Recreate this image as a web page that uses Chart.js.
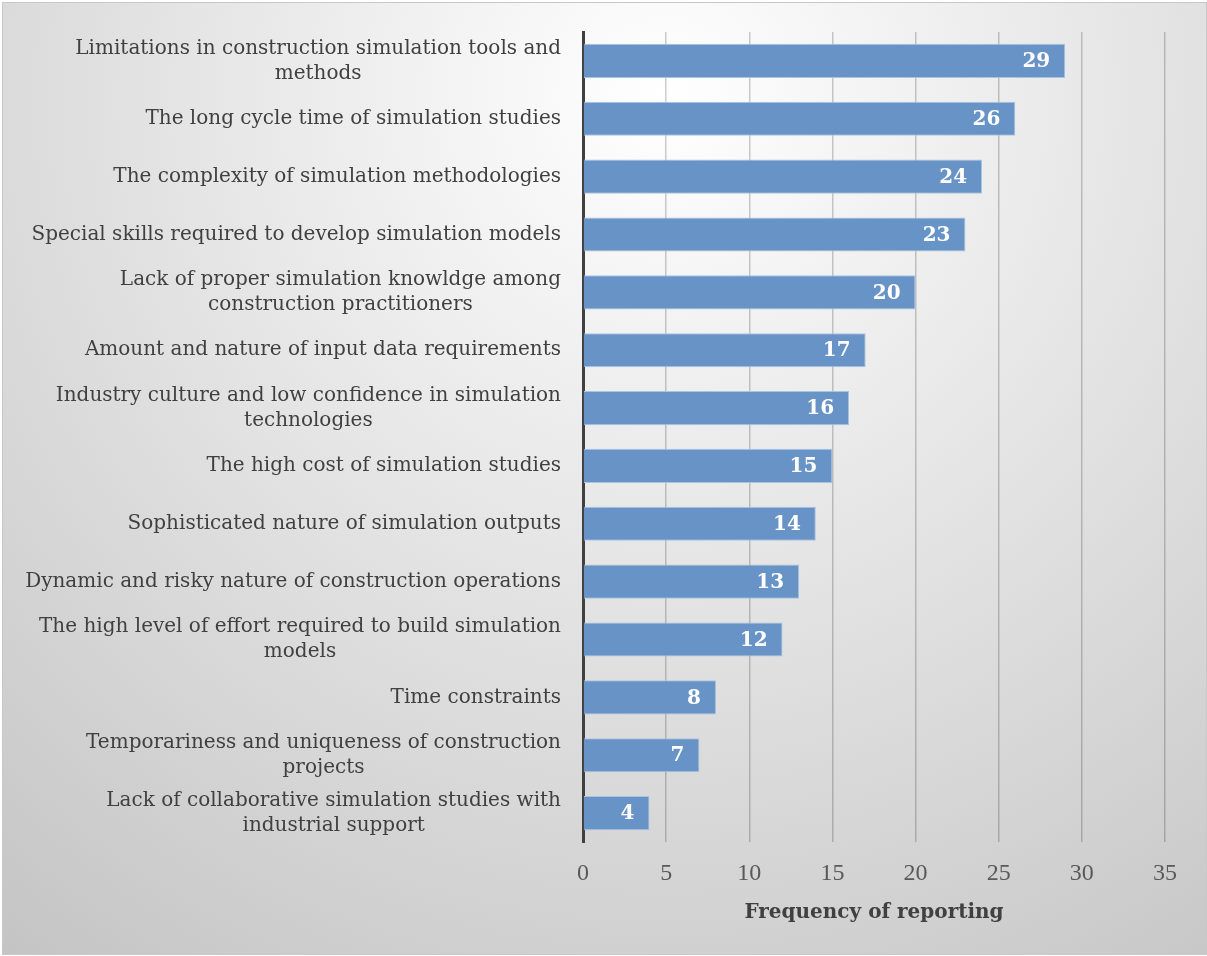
<!DOCTYPE html>
<html>
<head>
<meta charset="utf-8">
<script src="https://cdn.jsdelivr.net/npm/chart.js@4/dist/chart.umd.min.js"></script>
<style>
  html, body { margin: 0; padding: 0; background: #fff; }
  #wrap {
    position: absolute; left: 2px; top: 2px; width: 1203px; height: 951px;
    border: 1px solid #c8c8c8;
    background: radial-gradient(circle farthest-corner at 55% 10%, #ffffff 0%, #c4c4c4 100%);
  }
  #chart { position: absolute; left: -3px; top: -3px; }
</style>
</head>
<body>
<div id="wrap"><canvas id="chart" width="1207" height="956"></canvas></div>
<script>
// Barrier labels (already split into lines the way the figure wraps them)
const barrierLabels = [
  ['Limitations in construction simulation tools and', 'methods'],
  ['The long cycle time of simulation studies'],
  ['The complexity of simulation methodologies'],
  ['Special skills required to develop simulation models'],
  ['Lack of proper simulation knowldge among ', 'construction practitioners'],
  ['Amount and nature of input data requirements'],
  ['Industry culture and low confidence in simulation', 'technologies'],
  ['The high cost of simulation studies'],
  ['Sophisticated nature of simulation outputs'],
  ['Dynamic and risky nature of construction operations'],
  ['The high level of effort required to build simulation', 'models'],
  ['Time constraints'],
  ['Temporariness and uniqueness of construction', 'projects'],
  ['Lack of collaborative simulation studies with', 'industrial support']
];
const frequencies = [29, 26, 24, 23, 20, 17, 16, 15, 14, 13, 12, 8, 7, 4];
const axisTicks = [0, 5, 10, 15, 20, 25, 30, 35];
const axisTitle = 'Frequency of reporting';

const SERIF = '"DejaVu Serif", "Liberation Serif", serif';
const SERIF_NARROW = '"Liberation Serif", "DejaVu Serif", serif';
const TEXT_DARK = '#404040';

// category labels: right-aligned block, lines centred inside it
const categoryLabels = {
  id: 'categoryLabels',
  afterDraw(chart) {
    const { ctx, scales: { y } } = chart;
    const rightEdge = 561, lineH = 25;
    ctx.save();
    ctx.font = '20px ' + SERIF;
    ctx.fillStyle = TEXT_DARK;
    ctx.textAlign = 'center';
    ctx.textBaseline = 'middle';
    barrierLabels.forEach((lines, i) => {
      const yc = y.getPixelForTick(i);
      const w = Math.max(...lines.map(l => ctx.measureText(l.trimEnd()).width));
      const cx = rightEdge - w / 2;
      lines.forEach((line, j) => {
        ctx.fillText(line.trimEnd(), cx, yc + (j - (lines.length - 1) / 2) * lineH);
      });
    });
    ctx.restore();
  }
};

// white value labels at the inner end of every bar
const valueLabels = {
  id: 'valueLabels',
  afterDatasetsDraw(chart) {
    const { ctx } = chart;
    const meta = chart.getDatasetMeta(0);
    ctx.save();
    ctx.font = 'bold 20px ' + SERIF;
    ctx.fillStyle = '#ffffff';
    ctx.textAlign = 'right';
    ctx.textBaseline = 'middle';
    meta.data.forEach((bar, i) => {
      ctx.fillText(String(frequencies[i]), bar.x - 15, bar.y + 1);
    });
    ctx.restore();
  }
};

new Chart(document.getElementById('chart'), {
  type: 'bar',
  data: {
    labels: barrierLabels.map(l => l.join(' ')),
    datasets: [{
      data: frequencies,
      backgroundColor: '#6893c6',
      borderColor: '#a9c3e3',
      borderWidth: 1,
      barPercentage: 0.59,
      categoryPercentage: 1
    }]
  },
  options: {
    indexAxis: 'y',
    responsive: false,
    animation: false,
    layout: { padding: { left: 0, top: 32, right: 42, bottom: 0 } },
    plugins: { legend: { display: false }, tooltip: { enabled: false } },
    scales: {
      x: {
        min: 0, max: 35,
        afterBuildTicks(scale) { scale.ticks = axisTicks.map(v => ({ value: v })); },
        afterFit(scale) { scale.height = 114; },
        grid: { color: 'rgba(0,0,0,0.2)', lineWidth: 1.5, drawTicks: false },
        border: { display: false },
        ticks: { color: '#595959', font: { family: SERIF_NARROW, size: 24 }, padding: 17 },
        title: {
          display: true, text: axisTitle, color: TEXT_DARK,
          font: { family: SERIF, size: 20, weight: 'bold' },
          padding: { top: 0, bottom: 31 }
        }
      },
      y: {
        afterFit(scale) { scale.width = 583; },
        ticks: { display: false },
        grid: { display: false },
        border: { display: true, color: '#404040', width: 3 }
      }
    }
  },
  plugins: [categoryLabels, valueLabels]
});
</script>
</body>
</html>
